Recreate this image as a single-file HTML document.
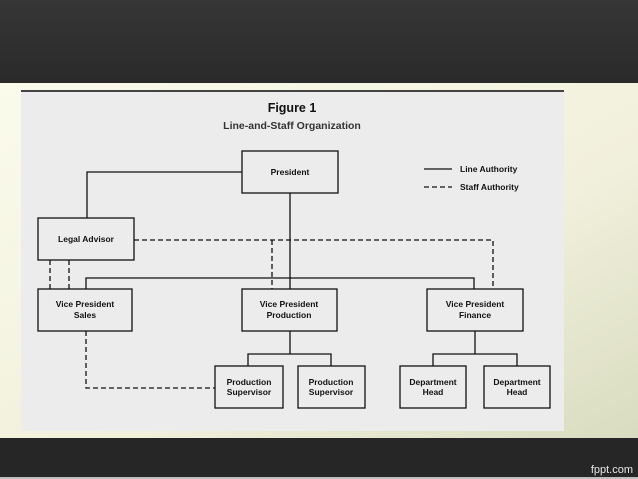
<!DOCTYPE html>
<html><head><meta charset="utf-8"><style>
html,body{margin:0;padding:0;width:638px;height:479px;overflow:hidden;background:#2c2c2c}
svg{display:block}
text{font-family:"Liberation Sans",sans-serif;fill:#111}
</style></head><body>
<svg width="638" height="479" viewBox="0 0 638 479">
<defs>
<linearGradient id="cream" x1="0" y1="0" x2="1" y2="1">
<stop offset="0" stop-color="#fbfbec"/><stop offset="0.6" stop-color="#f1f0dc"/><stop offset="1" stop-color="#d9dcc0"/>
</linearGradient>
<linearGradient id="dark" x1="0" y1="0" x2="0" y2="1">
<stop offset="0" stop-color="#363636"/><stop offset="1" stop-color="#2a2a2a"/>
</linearGradient>
</defs>
<rect x="0" y="0" width="638" height="83" fill="url(#dark)"/>
<rect x="0" y="83" width="638" height="355" fill="url(#cream)"/>
<rect x="0" y="438" width="638" height="41" fill="#262626"/>
<rect x="0" y="477" width="638" height="2" fill="#bfbfbf"/>
<text x="633" y="473" text-anchor="end" font-size="11" style="fill:#e8e8e8">fppt.com</text>
<rect x="21" y="91" width="543" height="340" fill="#ececec"/>
<rect x="21" y="90" width="543" height="2" fill="#444"/>
<text x="292" y="112" text-anchor="middle" font-size="12.5" font-weight="bold">Figure 1</text>
<text x="292" y="129" text-anchor="middle" font-size="10.5" font-weight="bold" style="fill:#333">Line-and-Staff Organization</text>
<g stroke="#111" stroke-width="1.3" fill="none">
<path d="M87 218V172H242"/>
<path d="M290 193V289"/>
<path d="M86 289V278H474V289"/>
<path d="M290 331V354M248 366V354H331V366"/>
<path d="M475 331V354M433 366V354H517V366"/>
<path d="M424 169H452"/>
<g stroke-dasharray="5,3">
<path d="M134 240H493V289"/>
<path d="M272 240V289"/>
<path d="M50 260V289M69 260V289"/>
<path d="M86 331V388H215"/>
<path d="M424 187H452"/>
</g>
</g>
<g stroke="#111" stroke-width="1.3" fill="#ececec">
<rect x="242" y="151" width="96" height="42"/>
<rect x="38" y="218" width="96" height="42"/>
<rect x="38" y="289" width="94" height="42"/>
<rect x="242" y="289" width="95" height="42"/>
<rect x="427" y="289" width="96" height="42"/>
<rect x="215" y="366" width="68" height="42"/>
<rect x="298" y="366" width="67" height="42"/>
<rect x="400" y="366" width="66" height="42"/>
<rect x="484" y="366" width="66" height="42"/>
</g>
<g font-size="8.5" font-weight="bold" text-anchor="middle">
<text x="290" y="175">President</text>
<text x="86" y="242">Legal Advisor</text>
<text x="85" y="307">Vice President</text><text x="85" y="318">Sales</text>
<text x="289" y="307">Vice President</text><text x="289" y="318">Production</text>
<text x="475" y="307">Vice President</text><text x="475" y="318">Finance</text>
<text x="249" y="385">Production</text><text x="249" y="395">Supervisor</text>
<text x="331" y="385">Production</text><text x="331" y="395">Supervisor</text>
<text x="433" y="385">Department</text><text x="433" y="395">Head</text>
<text x="517" y="385">Department</text><text x="517" y="395">Head</text>
</g>
<g font-size="8.5" font-weight="bold">
<text x="460" y="172">Line Authority</text>
<text x="460" y="190">Staff Authority</text>
</g>
</svg>
</body></html>
